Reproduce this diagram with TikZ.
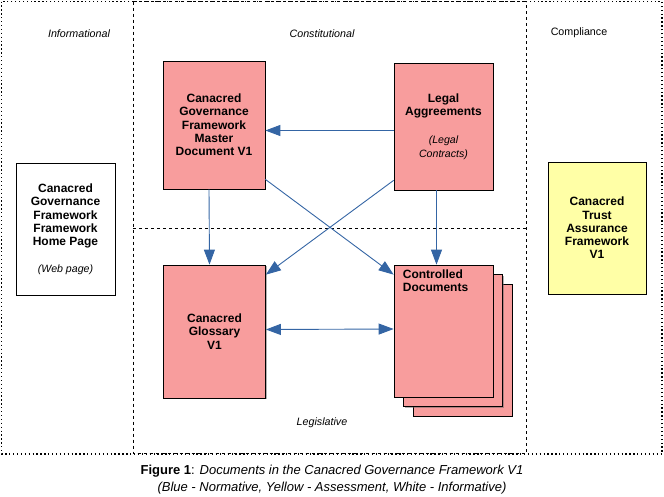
\documentclass[tikz,border=0pt]{standalone}
\usepackage{fontspec}
\setmainfont{Liberation Sans}
\usetikzlibrary{arrows.meta,shadows}

\definecolor{docpink}{RGB}{248,157,157}
\definecolor{assessyellow}{RGB}{255,255,166}
\definecolor{linkblue}{RGB}{52,101,164}

\newcommand{\boxfont}{\bfseries\fontsize{12}{13.3}\selectfont}
\newcommand{\areafont}{\fontsize{10.7}{12}\selectfont}
\newcommand{\subnote}[1]{{\mdseries\itshape\fontsize{10.6}{11.5}\selectfont #1}}

\tikzset{
  docbox/.style={draw, line width=0.7pt, fill=docpink, align=center, font=\boxfont,
    minimum width=101pt, minimum height=129pt, inner sep=2pt,
    drop shadow={shadow xshift=1.2pt, shadow yshift=-1.2pt, fill=black!60}},
  area/.style={font=\areafont\itshape},
  link/.style={draw=linkblue, line width=0.9pt, -{Triangle[length=15pt,width=11pt]}},
  bothlink/.style={draw=linkblue, line width=0.9pt, {Triangle[length=15pt,width=11pt]}-{Triangle[length=15pt,width=11pt]}}
}

\begin{document}
\begin{tikzpicture}[x=1pt,y=-1pt]
    \useasboundingbox (0,0) rectangle (664,496);

    % frames
    \draw[line width=1.3pt, dash pattern=on 1.3pt off 2.6pt] (1.5,1.5) rectangle (662,454);
    \draw[line width=0.7pt, dashed] (133,1.5) rectangle (526,453);
    \draw[line width=0.7pt, dashed] (133,228) -- (526,228);

    % area labels
    \node[area] (informational) at (79,34) {Informational};
    \node[area] (constitutional) at (322,34) {Constitutional};
    \node[font=\areafont] (compliance) at (579,32.5) {Compliance};
    \node[area] (legislative) at (322,423) {Legislative};

    % documents
    \node[docbox, fill=white] (home) at (65.5,229) [minimum width=99pt, minimum height=132pt]
        {Canacred\\Governance\\Framework\\Framework\\Home Page\\[13pt]\subnote{(Web page)}};
    \node[docbox, fill=assessyellow] (trust) at (597,228) [minimum width=98pt, minimum height=132pt]
        {Canacred\\Trust\\Assurance\\Framework\\V1};
    \node[docbox] (master) at (214,125) [minimum width=102pt, minimum height=128pt]
        {Canacred\\Governance\\Framework\\Master\\Document V1};
    \node[docbox] (legal) at (443.5,126.5) [minimum width=99pt, minimum height=127pt]
        {Legal\\Aggreements\\[15pt]\subnote{(Legal}\\\subnote{Contracts)}};
    \node[docbox] (glossary) at (214.5,331.5) [minimum width=102pt, minimum height=133pt]
        {Canacred\\Glossary\\V1};

    \node[docbox, minimum width=99pt, minimum height=132pt] (ctrlback) at (462.5,350) {};
    \node[docbox, minimum width=99pt, minimum height=132pt] (ctrlmid) at (453,340.5) {};
    \node[docbox, minimum width=99pt, minimum height=132pt,
          label={[anchor=north west, align=left, font=\boxfont, inner sep=0pt, xshift=9pt, yshift=-5pt]north west:{Controlled\\Documents}}]
          (ctrl) at (443.5,331) {};

    % links
    \draw[link] ([yshift=-4pt]legal.west) -- ([yshift=-4pt]legal.west -| master.east);
    \draw[link] ([xshift=-5pt]master.south) -- ([xshift=-5pt]glossary.north);
    \draw[link] ([xshift=-7pt]legal.south) -- ([xshift=-7pt]ctrl.north);
    \draw[link] ([yshift=10pt]master.south east) -- ([yshift=-10pt]ctrl.north west);
    \draw[link] ([yshift=10pt]legal.south west) -- ([yshift=-10pt]glossary.north east);
    \draw[bothlink] ([yshift=2pt]glossary.east) -- ([yshift=2pt]ctrl.west);

    % caption
    \node[align=center, font=\fontsize{13}{17}\selectfont] (caption) at (332,479.5)
        {\textbf{Figure 1}: \textit{Documents in the Canacred Governance Framework V1}\\
         \textit{(Blue - Normative, Yellow - Assessment, White - Informative)}};
\end{tikzpicture}
\end{document}
